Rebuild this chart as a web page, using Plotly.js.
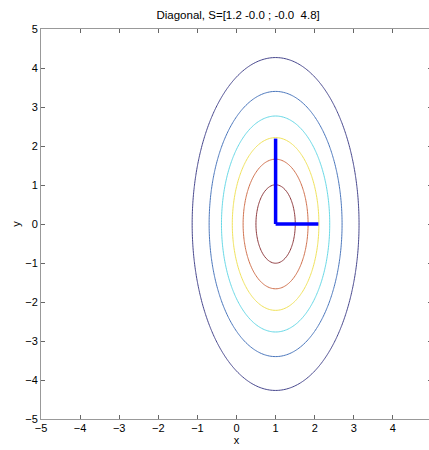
<!DOCTYPE html>
<html>
<head>
<meta charset="utf-8">
<script src="https://cdn.plot.ly/plotly-3.0.1.min.js"></script>
<style>
html,body{margin:0;padding:0;overflow:hidden;background:#fff;width:429px;height:450px;}
#chart{width:433px;height:450px;}
</style>
</head>
<body>
<div id="chart"></div>
<script>
// Distribution parameters (from the title)
const meanVec = [1, 0];
const covDiag = [1.2, 4.8];
const titleText = 'Diagonal, S=[1.2 -0.0 ; -0.0\u00a0 4.8]';
const levels = [0.15, 0.30, 0.45, 0.60, 0.75, 0.90];
const levelColors = ['#45458c', '#4a76bc', '#66d8e6', '#f0e25a', '#d0704c', '#8e3a3e'];
// Principal-axis segments (eigenvectors scaled by sqrt of eigenvalues)
const axisSegX = [[1, 2.095], [1, 1]];
const axisSegY = [[0, 0], [0, 2.19]];
// Tick values
const tickVals = [-5, -4, -3, -2, -1, 0, 1, 2, 3, 4, 5];

// density grid (relative to peak)
const gx = [], gy = [];
for (let i = 0; i <= 250; i++) { gx.push(-5 + i * 0.04); gy.push(-5 + i * 0.04); }
const gz = gy.map(y => gx.map(x => {
  const dx = x - meanVec[0], dy = y - meanVec[1];
  return Math.exp(-0.5 * (dx * dx / covDiag[0] + dy * dy / covDiag[1]));
}));

const traces = levels.map((lv, i) => ({
  type: 'contour', x: gx, y: gy, z: gz,
  autocontour: false,
  contours: {start: lv, end: lv, size: 1, coloring: 'none', showlabels: false},
  line: {color: levelColors[i], width: 1, smoothing: 1},
  showscale: false, hoverinfo: 'skip'
}));
axisSegX.forEach((sx, i) => traces.push({
  type: 'scatter', mode: 'lines', x: sx, y: axisSegY[i],
  line: {color: '#0000ff', width: 3.5}, hoverinfo: 'skip', showlegend: false
}));

const font = {family: 'Liberation Sans, Arial, sans-serif', size: 11, color: '#000'};
const axisCommon = {
  range: [-5, 5], tickvals: tickVals, ticks: 'inside', ticklen: 4, tickwidth: 1,
  tickcolor: '#666', showline: true, linecolor: '#999', linewidth: 1, mirror: 'ticks',
  showgrid: false, zeroline: false, tickfont: font
};
const layout = {
  width: 433, height: 450,
  margin: {l: 41, r: 1, t: 29, b: 31},
  paper_bgcolor: '#fff', plot_bgcolor: '#fff',
  showlegend: false, font: font,
  title: {text: titleText, font: {family: font.family, size: 11.5, color: '#000'}, x: 0.55, xanchor: 'center', y: 0.966, yanchor: 'middle'},
  xaxis: Object.assign({}, axisCommon, {ticklabelstandoff: -1, title: {text: 'x', font: font, standoff: 2}}),
  yaxis: Object.assign({}, axisCommon, {title: {text: 'y', font: font, standoff: 2}})
};
Plotly.newPlot('chart', traces, layout, {staticPlot: true, displayModeBar: false});
</script>
</body>
</html>
